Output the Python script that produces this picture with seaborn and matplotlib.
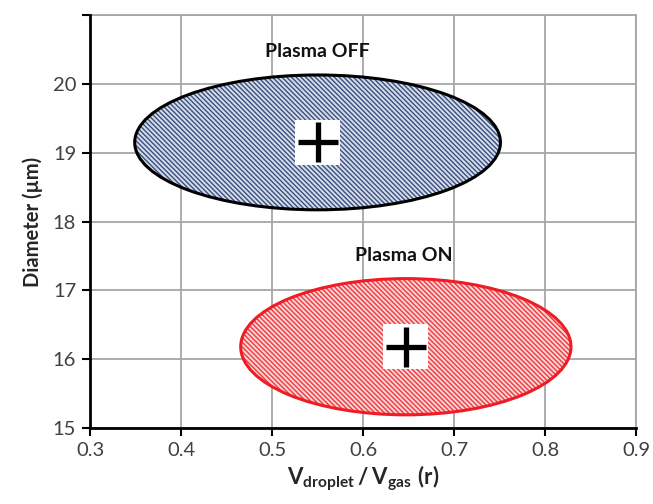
import pandas as pd
import matplotlib
matplotlib.use('Agg')
import matplotlib.pyplot as plt
from matplotlib.patches import Ellipse
import seaborn as sns

# Data
groups = ['Plasma OFF', 'Plasma ON']
center_r = [0.55, 0.647]
center_d = [19.15, 16.18]
width_r = [0.402, 0.363]
height_d = [1.96, 1.98]
label_r = [0.55, 0.645]
label_d = [20.47, 17.5]
x_ticks = [0.3, 0.4, 0.5, 0.6, 0.7, 0.8, 0.9]
y_ticks = [15, 16, 17, 18, 19, 20, 21]
y_ticklabels = ['15', '16', '17', '18', '19', '20', '']

fill_colors = ['#d5dcea', '#fad3d4']
hatch_colors = ['#3a4f7f', '#ec3a40']
edge_colors = ['#000000', '#ee1c24']

sns.set_style('white')
plt.rcParams['font.family'] = ['Lato', 'DejaVu Sans']
plt.rcParams['mathtext.fontset'] = 'custom'
plt.rcParams['mathtext.rm'] = 'Lato'
plt.rcParams['mathtext.bf'] = 'Lato:bold'
plt.rcParams['hatch.linewidth'] = 1.0

df = pd.DataFrame({'group': groups, 'r': center_r, 'd': center_d})

fig = plt.figure(figsize=(6.53, 5.04), dpi=100)
ax = fig.add_axes([0.138, 0.151, 0.836, 0.819])

# ellipses: hatched fill, then outline
for i in range(len(groups)):
    ax.add_patch(Ellipse((center_r[i], center_d[i]), width_r[i], height_d[i],
                         facecolor=fill_colors[i], edgecolor=hatch_colors[i],
                         hatch='\\' * 7, linewidth=0, zorder=2))
    ax.add_patch(Ellipse((center_r[i], center_d[i]), width_r[i], height_d[i],
                         facecolor='none', edgecolor=edge_colors[i],
                         linewidth=2.2, zorder=3))
    ax.text(label_r[i], label_d[i], groups[i], ha='center', va='center',
            fontsize=14, fontweight='bold', color='#111111', zorder=5)

# centre markers with white box behind
sns.scatterplot(data=df, x='r', y='d', marker='s', s=1050, color='white',
                edgecolor='none', ax=ax, zorder=4, legend=False)
sns.scatterplot(data=df, x='r', y='d', marker='+', s=800, color='black',
                linewidth=3.8, ax=ax, zorder=5, legend=False)

ax.set_xlim(0.3, 0.9)
ax.set_ylim(15, 21)
ax.set_xticks(x_ticks)
ax.set_xticklabels([f'{v:.1f}' for v in x_ticks])
ax.set_yticks(y_ticks)
ax.set_yticklabels(y_ticklabels)
ax.grid(True, color='#a6a6a6', linewidth=1.3, zorder=0)
ax.set_axisbelow(True)

for s in ['top', 'right']:
    ax.spines[s].set_color('#a6a6a6')
    ax.spines[s].set_linewidth(1.3)
for s in ['left', 'bottom']:
    ax.spines[s].set_color('black')
    ax.spines[s].set_linewidth(2)
    ax.spines[s].set_zorder(6)

ax.tick_params(axis='both', direction='out', length=6, width=1.5, color='black',
               labelsize=14.5, labelcolor='#404040', pad=4, left=True, bottom=True)

ax.set_xlabel(r'$\mathbf{V_{droplet}\,/\,V_{gas}\ (r)}$', fontsize=16, labelpad=3)
ax.set_ylabel('Diameter (µm)', fontsize=14.5, fontweight='bold', labelpad=7)

fig.savefig('out.png', dpi=100)
